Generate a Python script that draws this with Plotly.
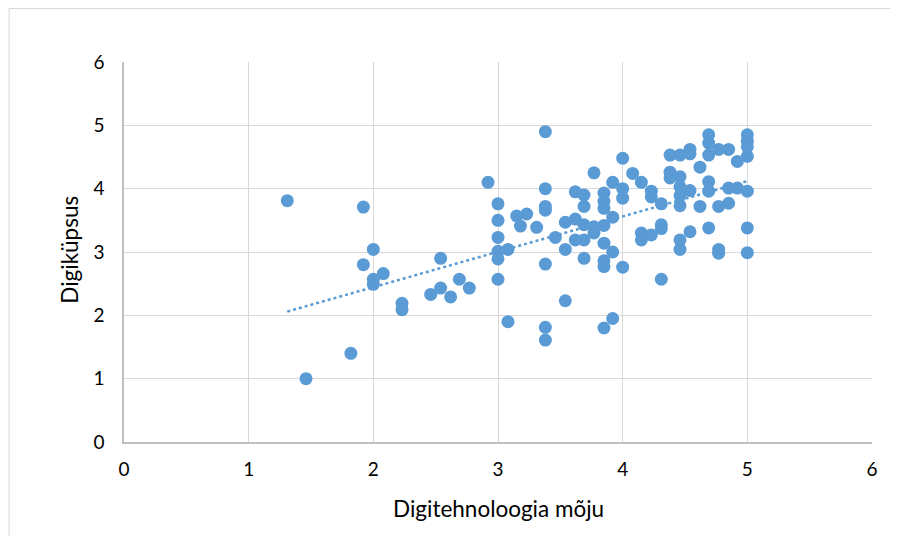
import plotly.graph_objects as go

# Digitehnoloogia mõju (x) vs Digiküpsus (y)
x_values = [
    1.31, 1.46, 1.82, 1.92, 1.92, 2.00, 2.08, 2.00, 2.00, 2.23,
    2.23, 2.46, 2.54, 2.54, 2.62, 2.69, 2.77, 2.92, 3.00, 3.00,
    3.00, 3.00, 3.00, 3.00, 3.08, 3.08, 3.15, 3.23, 3.18, 3.31,
    3.38, 3.38, 3.38, 3.38, 3.38, 3.38, 3.38, 3.46, 3.54, 3.54,
    3.54, 3.62, 3.62, 3.62, 3.69, 3.69, 3.69, 3.69, 3.69, 3.77,
    3.77, 3.77, 3.85, 3.85, 3.85, 3.85, 3.85, 3.85, 3.85, 3.92,
    3.92, 3.92, 3.92, 4.00, 4.00, 4.00, 4.00, 4.08, 4.15, 4.15,
    4.15, 4.23, 4.23, 4.23, 4.31, 4.31, 4.31, 4.31, 4.38, 4.38,
    4.38, 4.46, 4.46, 4.46, 4.46, 4.46, 4.46, 4.46, 4.54, 4.54,
    4.54, 4.54, 4.62, 4.62, 4.69, 4.69, 4.69, 4.69, 4.69, 4.69,
    4.77, 4.77, 4.77, 4.77, 4.85, 4.85, 4.85, 4.92, 4.92, 5.00,
    5.00, 5.00, 5.00, 5.00, 5.00, 5.00, 3.85,
]
y_values = [
    3.81, 1.00, 1.40, 3.71, 2.80, 3.04, 2.66, 2.57, 2.49, 2.19,
    2.09, 2.33, 2.90, 2.43, 2.29, 2.57, 2.43, 4.10, 3.76, 3.50,
    3.23, 3.01, 2.89, 2.57, 3.04, 1.90, 3.57, 3.60, 3.41, 3.39,
    4.90, 4.00, 3.72, 3.66, 2.81, 1.81, 1.61, 3.23, 3.47, 3.04,
    2.23, 3.95, 3.52, 3.19, 3.90, 3.72, 3.43, 3.19, 2.90, 4.25,
    3.40, 3.30, 3.93, 3.80, 3.69, 3.14, 2.86, 2.77, 1.80, 4.10,
    3.55, 3.00, 1.95, 4.48, 4.00, 3.85, 2.76, 4.24, 4.10, 3.30,
    3.19, 3.96, 3.87, 3.27, 3.76, 3.43, 3.37, 2.57, 4.53, 4.26,
    4.17, 4.53, 4.19, 4.03, 3.89, 3.73, 3.19, 3.04, 4.62, 4.55,
    3.97, 3.32, 4.34, 3.72, 4.85, 4.72, 4.53, 4.11, 3.96, 3.38,
    4.62, 3.72, 3.04, 2.98, 4.62, 4.01, 3.77, 4.43, 4.01, 4.85,
    4.75, 4.66, 4.51, 3.96, 3.38, 2.99, 3.42,
]
# Linear trendline end values
trend_y_values = [2.06, 4.12]

x_ticks = [0, 1, 2, 3, 4, 5, 6]
y_ticks = [0, 1, 2, 3, 4, 5, 6]
x_title = "Digitehnoloogia mõju"
y_title = "Digiküpsus"

BLUE = "#5B9BD5"
FONT = "Lato"

trend_x = [min(x_values), max(x_values)]

fig = go.Figure()
fig.add_trace(go.Scatter(
    x=x_values, y=y_values, mode="markers",
    marker=dict(size=13, color=BLUE, line=dict(width=0)),
    hoverinfo="x+y", showlegend=False,
))
fig.add_trace(go.Scatter(
    x=trend_x, y=trend_y_values, mode="lines",
    line=dict(color=BLUE, width=2.5, dash="dot"),
    hoverinfo="skip", showlegend=False,
))

fig.update_layout(
    width=882, height=528,
    margin=dict(l=115.5, r=18, t=54, b=94, autoexpand=False),
    paper_bgcolor="white", plot_bgcolor="white",
    font=dict(family=FONT, size=19, color="#000000"),
    xaxis=dict(
        range=[0, 6], tickvals=x_ticks, ticktext=[str(v) for v in x_ticks],
        showgrid=True, gridcolor="#D9D9D9", gridwidth=1,
        zeroline=False, showline=True, linecolor="#BFBFBF", linewidth=1.5,
        ticks="", ticklabelstandoff=9, tickfont=dict(size=19),
        fixedrange=True,
    ),
    yaxis=dict(
        range=[0, 6], tickvals=y_ticks, ticktext=[str(v) for v in y_ticks],
        showgrid=True, gridcolor="#D9D9D9", gridwidth=1,
        zeroline=False, showline=True, linecolor="#BFBFBF", linewidth=1.5,
        ticks="", ticklabelstandoff=14, tickfont=dict(size=19),
        fixedrange=True,
    ),
    annotations=[
        dict(text=x_title, xref="paper", yref="paper", x=0.5, y=-0.174,
             xanchor="center", yanchor="middle", showarrow=False,
             font=dict(family=FONT, size=22.5)),
        dict(text=y_title, xref="paper", yref="paper", x=-0.074, y=0.505,
             xanchor="center", yanchor="middle", showarrow=False, textangle=-90,
             font=dict(family=FONT, size=22.5)),
    ],
    shapes=[
        dict(type="path", xref="paper", yref="paper",
             path="M -0.1536,-0.6 L -0.1536,1.1408 L 1.2,1.1408",
             line=dict(color="#D9D9D9", width=1), layer="below"),
    ],
)

fig.write_html("out.html")
